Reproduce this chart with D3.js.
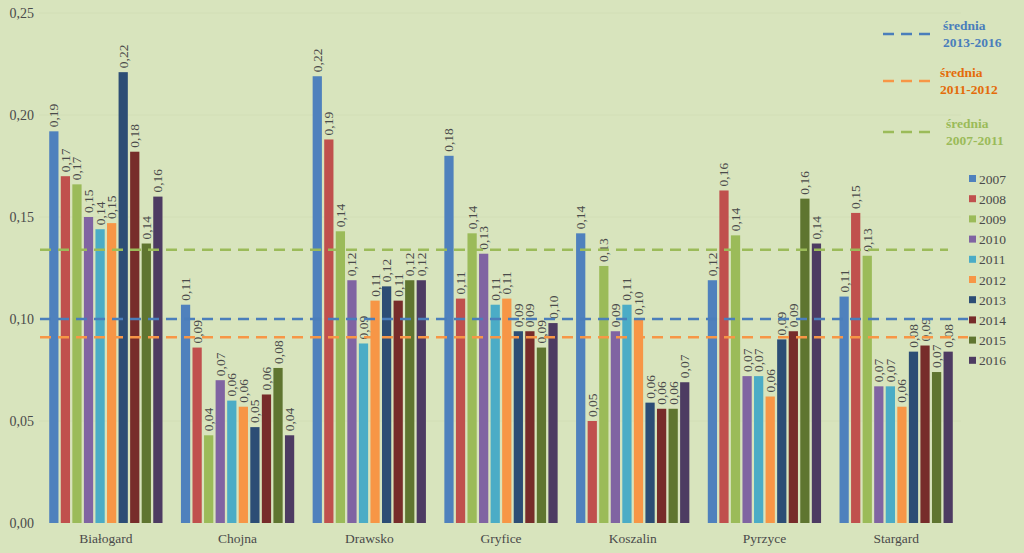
<!DOCTYPE html>
<html><head><meta charset="utf-8">
<script src="https://cdn.jsdelivr.net/npm/d3@7"></script>
<style>
html,body{margin:0;padding:0;background:#d8e4bd;}
svg{display:block;}
svg text{font-family:"Liberation Serif","Times New Roman",Times,serif;}
</style></head>
<body>
<svg id="chart" width="1024" height="553"></svg>
<script>
const categories = ["Białogard","Chojna","Drawsko","Gryfice","Koszalin","Pyrzyce","Stargard"];
const years = ["2007","2008","2009","2010","2011","2012","2013","2014","2015","2016"];
const colors = ["#4f81bd","#c0504d","#9bbb59","#8064a2","#4bacc6","#f79646","#2c4d75","#772c2a","#5f7530","#4d3b62"];
// values per year, in category order
const v2007 = [0.192,0.107,0.219,0.180,0.142,0.119,0.111];
const v2008 = [0.170,0.086,0.188,0.110,0.050,0.163,0.152];
const v2009 = [0.166,0.043,0.143,0.142,0.126,0.141,0.131];
const v2010 = [0.150,0.070,0.119,0.132,0.094,0.072,0.067];
const v2011 = [0.144,0.060,0.088,0.107,0.107,0.072,0.067];
const v2012 = [0.147,0.057,0.109,0.110,0.100,0.062,0.057];
const v2013 = [0.221,0.047,0.116,0.094,0.059,0.090,0.084];
const v2014 = [0.182,0.063,0.109,0.094,0.056,0.094,0.087];
const v2015 = [0.137,0.076,0.119,0.086,0.056,0.159,0.074];
const v2016 = [0.160,0.043,0.119,0.098,0.069,0.137,0.084];
const series = [v2007,v2008,v2009,v2010,v2011,v2012,v2013,v2014,v2015,v2016];
const yTicks = [0,0.05,0.10,0.15,0.20,0.25];
const avgLabels = [["średnia","2013-2016"],["średnia","2011-2012"],["średnia","2007-2011"]];
const avgValues = [0.100,0.091,0.134];
const avgColors = ["#4a7ebb","#f79646","#9bbb59"];
const avgTextColors = ["#4a7ebb","#e46c0a","#9bbb59"];

const svg = d3.select("#chart");
const W = 1024, H = 553;
svg.append("rect").attr("width",W).attr("height",H).attr("fill","#d8e4bd");

const x0 = d3.scaleBand().domain(categories).range([40,962]).paddingInner(0.14).paddingOuter(0.07);
const x1 = d3.scaleBand().domain(years).range([0,x0.bandwidth()]).paddingInner(0.2);
const y = d3.scaleLinear().domain([0,0.25]).range([523,13]);
const fmt = v => v.toFixed(2).replace(".",",");
const textCol = "#4a4a4a";

// gridlines (faint)
svg.append("g").selectAll("line").data(yTicks.slice(1)).join("line")
  .attr("x1",39).attr("x2",961).attr("y1",d=>y(d)).attr("y2",d=>y(d))
  .attr("stroke","#d2deb6").attr("stroke-width",1);

// y axis labels
const yAxis = d3.axisLeft(y).tickValues(yTicks).tickFormat(fmt).tickSize(0).tickPadding(6);
const ya = svg.append("g").attr("transform","translate(40,0)").call(yAxis);
ya.select(".domain").remove();
ya.attr("font-family",null);
ya.selectAll("text").attr("font-size",14).attr("fill",textCol);

// x axis labels
const xAxis = d3.axisBottom(x0).tickSize(0).tickPadding(10);
const xa = svg.append("g").attr("transform","translate(0,523)").call(xAxis);
xa.select(".domain").remove();
xa.attr("font-family",null);
xa.selectAll("text").attr("font-size",13.5).attr("fill",textCol);

// bars
const groups = svg.append("g").selectAll("g").data(categories).join("g")
  .attr("transform",d=>`translate(${x0(d)},0)`);
groups.each(function(cat,ci){
  const g = d3.select(this);
  const data = years.map((yr,yi)=>({yr,yi,v:series[yi][ci]}));
  g.selectAll("rect").data(data).join("rect")
    .attr("x",d=>x1(d.yr)).attr("width",x1.bandwidth())
    .attr("y",d=>y(d.v)).attr("height",d=>y(0)-y(d.v))
    .attr("fill",d=>colors[d.yi]);
  g.selectAll("text").data(data).join("text")
    .attr("transform",d=>`translate(${x1(d.yr)+x1.bandwidth()/2+4.5},${y(d.v)-4}) rotate(-90)`)
    .attr("font-size",13.5).attr("fill",textCol)
    .text(d=>fmt(d.v));
});

// average lines
svg.append("g").selectAll("line").data(avgValues).join("line")
  .attr("x1",40).attr("x2",(d,i)=> i===2 ? 948 : 968)
  .attr("y1",d=>y(d)).attr("y2",d=>y(d))
  .attr("stroke",(d,i)=>avgColors[i]).attr("stroke-width",2.5)
  .attr("stroke-dasharray","11,7");

// average legend
const avgLegY = [34,81,132];
const avgLegX = [943,940,946];
avgLabels.forEach((lab,i)=>{
  svg.append("line").attr("x1",883).attr("x2",931).attr("y1",avgLegY[i]).attr("y2",avgLegY[i])
    .attr("stroke",avgColors[i]).attr("stroke-width",2.5).attr("stroke-dasharray","11,7");
  const t = svg.append("text").attr("font-size",13.5).attr("font-weight","bold")
    .attr("fill",avgTextColors[i]);
  t.append("tspan").attr("x",avgLegX[i]).attr("y",avgLegY[i]-4).text(lab[0]);
  t.append("tspan").attr("x",avgLegX[i]).attr("y",avgLegY[i]+13).text(lab[1]);
});

// year legend
const leg = svg.append("g").selectAll("g").data(years).join("g")
  .attr("transform",(d,i)=>`translate(969,${179+i*20.2})`);
leg.append("rect").attr("x",0).attr("y",-4).attr("width",7).attr("height",7).attr("fill",(d,i)=>colors[i]);
leg.append("text").attr("x",10).attr("y",4.5).attr("font-size",13.5)
  .attr("fill",textCol).text(d=>d);
</script>
</body></html>
